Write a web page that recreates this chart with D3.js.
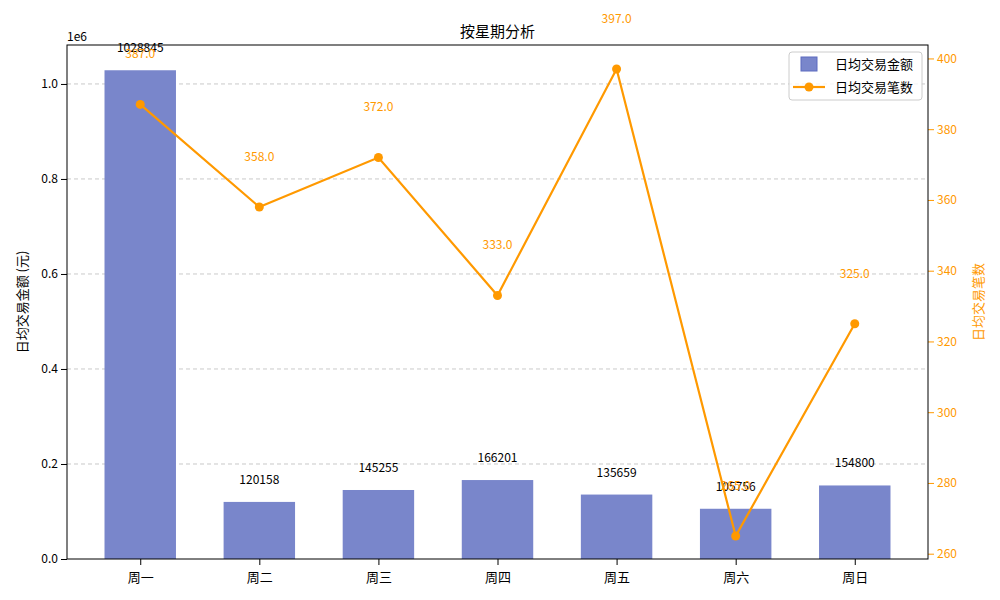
<!DOCTYPE html>
<html><head><meta charset="utf-8">
<script src="https://cdn.jsdelivr.net/npm/d3@7"></script>
<style>body{margin:0;background:#fff}text{font-family:"Noto Sans CJK SC","DejaVu Sans",sans-serif}</style>
</head><body><svg width="1000" height="600"></svg>
<script>
var days = ['周一','周二','周三','周四','周五','周六','周日'];
var amounts = [1028845,120158,145255,166201,135659,105756,154800];
var counts = [387,358,372,333,397,265,325];
var leftTicks = [0,0.2,0.4,0.6,0.8,1.0];
var rightTicks = [260,280,300,320,340,360,380,400];

var svg = d3.select('svg');
var L = 67, R = 928, T = 45, B = 559;
var orange = '#ff9900', blue = '#7986cb';
var x = d3.scaleLinear().domain([-0.615, 6.615]).range([L, R]);
var y = d3.scaleLinear().domain([0, 1.082e6]).range([B, T]);
var y2 = d3.scaleLinear().domain([258.5, 403.8]).range([B, T]);

// grid
svg.append('g').selectAll('line').data(leftTicks.slice(1)).enter().append('line')
  .attr('x1', L).attr('x2', R).attr('y1', d => y(d*1e6)).attr('y2', d => y(d*1e6))
  .attr('stroke', '#bbb').attr('stroke-dasharray', '4,3').attr('stroke-width', 0.8);

var bw = x(0.3) - x(-0.3);
svg.append('g').selectAll('rect').data(amounts).enter().append('rect')
  .attr('x', (d, i) => x(i) - bw/2).attr('width', bw)
  .attr('y', d => y(d)).attr('height', d => B - y(d)).attr('fill', blue);
svg.append('g').selectAll('text').data(amounts).enter().append('text')
  .attr('x', (d, i) => x(i)).attr('y', d => y(d) - 18).attr('text-anchor', 'middle')
  .attr('font-size', 12).text(d => d);

var line = d3.line().x((d, i) => x(i)).y(d => y2(d));
svg.append('path').datum(counts).attr('d', line).attr('fill', 'none')
  .attr('stroke', orange).attr('stroke-width', 2.2);
svg.append('g').selectAll('circle').data(counts).enter().append('circle')
  .attr('cx', (d, i) => x(i)).attr('cy', d => y2(d)).attr('r', 4.5).attr('fill', orange);
svg.append('g').selectAll('text').data(counts).enter().append('text')
  .attr('x', (d, i) => x(i)).attr('y', d => y2(d) - 46).attr('text-anchor', 'middle')
  .attr('font-size', 12).attr('fill', orange).text(d => d.toFixed(1));

// axes
svg.append('g').attr('transform', 'translate(0,' + B + ')')
  .call(d3.axisBottom(x).tickValues(d3.range(7)).tickFormat(i => days[i]).tickSizeOuter(0))
  .call(g => g.selectAll('text').attr('font-size', 13).attr('dy', '1.1em'));
svg.append('g').attr('transform', 'translate(' + L + ',0)')
  .call(d3.axisLeft(y).tickValues(leftTicks.map(d => d*1e6)).tickFormat(d => (d/1e6).toFixed(1)).tickSizeOuter(0))
  .call(g => g.selectAll('text').attr('font-size', 12));
svg.append('g').attr('transform', 'translate(' + R + ',0)')
  .call(d3.axisRight(y2).tickValues(rightTicks).tickSizeOuter(0))
  .call(g => { g.selectAll('text').attr('font-size', 12).attr('fill', orange); g.selectAll('line').attr('stroke', orange); });
svg.selectAll('.domain').remove();
svg.append('rect').attr('x', L).attr('y', T).attr('width', R - L).attr('height', B - T)
  .attr('fill', 'none').attr('stroke', '#000');

svg.append('text').attr('x', 67).attr('y', 41).attr('font-size', 12).text('1e6');
svg.append('text').attr('x', (L + R)/2).attr('y', 37).attr('text-anchor', 'middle').attr('font-size', 15).text('按星期分析');
svg.append('text').attr('transform', 'translate(27,' + (T + B)/2 + ') rotate(-90)').attr('text-anchor', 'middle')
  .attr('font-size', 13).text('日均交易金额 (元)');
svg.append('text').attr('transform', 'translate(983,' + (T + B)/2 + ') rotate(-90)').attr('text-anchor', 'middle')
  .attr('font-size', 13).attr('fill', orange).text('日均交易笔数');

// legend
var lg = svg.append('g').attr('transform', 'translate(789,52)');
lg.append('rect').attr('width', 133).attr('height', 48).attr('rx', 3).attr('fill', '#fff').attr('fill-opacity', 0.8).attr('stroke', '#ccc');
lg.append('rect').attr('x', 12).attr('y', 5).attr('width', 16).attr('height', 14).attr('fill', blue).attr('stroke', '#5c6bc0');
lg.append('text').attr('x', 46).attr('y', 17).attr('font-size', 13).text('日均交易金额');
lg.append('line').attr('x1', 4).attr('x2', 36).attr('y1', 35).attr('y2', 35).attr('stroke', orange).attr('stroke-width', 2.2);
lg.append('circle').attr('cx', 20).attr('cy', 35).attr('r', 4.5).attr('fill', orange);
lg.append('text').attr('x', 46).attr('y', 40).attr('font-size', 13).text('日均交易笔数');
</script></body></html>
